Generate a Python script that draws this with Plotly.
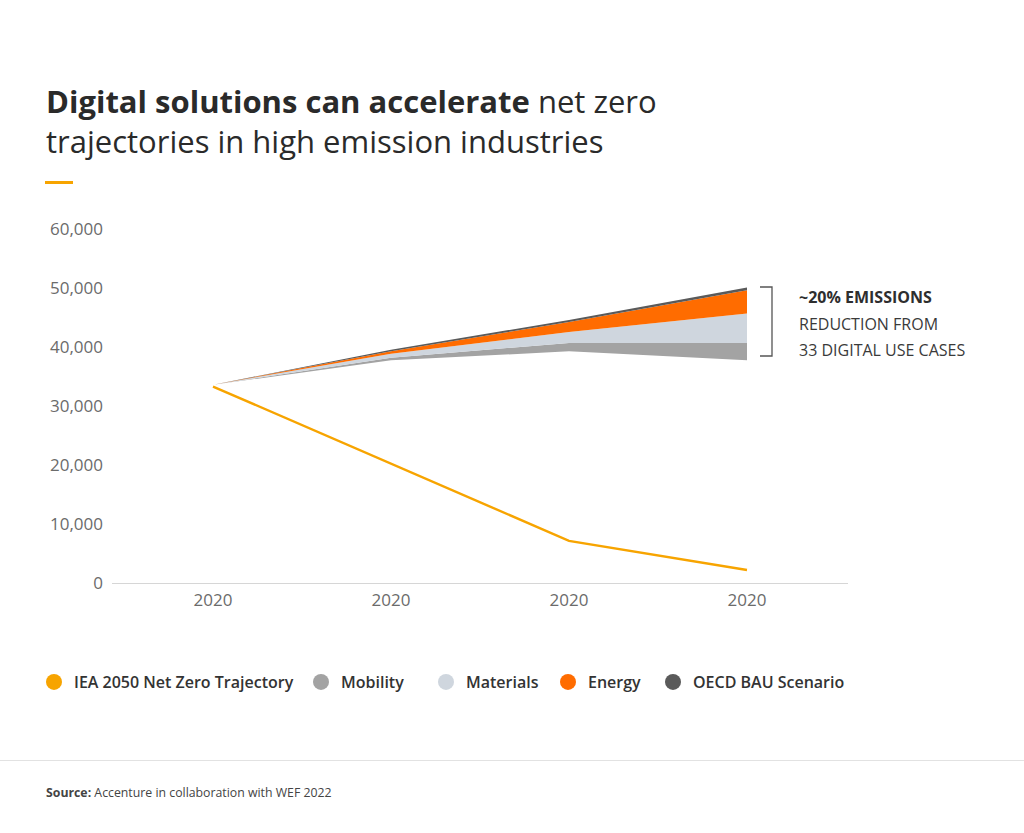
import plotly.graph_objects as go

# ---------------- data ----------------
x_positions = [0, 1, 2, 3]
tick_labels = ["2020", "2020", "2020", "2020"]
y_ticks = [0, 10000, 20000, 30000, 40000, 50000, 60000]

iea_net_zero = [33300, 20250, 7150, 2200]
achieved_base = [33600, 37740, 39270, 37740]   # bottom of the stack (invisible)
mobility = [0, 450, 1410, 2940]
materials = [0, 680, 1870, 4990]
energy = [0, 400, 1700, 3960]
oecd_bau = [0, 280, 320, 450]

series_names = ["IEA 2050 Net Zero Trajectory", "Mobility", "Materials", "Energy", "OECD BAU Scenario"]
series_colors = ["#F7A400", "#A3A3A3", "#CFD6DE", "#FF6C00", "#5A5A5A"]

# ---------------- layout helpers ----------------
W, H = 1024, 833
L, R, T, B = 112, 848, 229, 583
legend_symbol_x = [54, 321, 446, 568, 673]


def px(xp):
    return (xp - L) / (R - L)


def py(yp):
    return (B - yp) / (B - T)


FONT = "Open Sans"

fig = go.Figure()

# stacked areas
fig.add_trace(go.Scatter(x=x_positions, y=achieved_base, stackgroup="s", mode="lines",
                         line=dict(width=0), fillcolor="rgba(0,0,0,0)", showlegend=False,
                         hoverinfo="skip"))
for vals, col in zip([mobility, materials, energy, oecd_bau], series_colors[1:]):
    fig.add_trace(go.Scatter(x=x_positions, y=vals, stackgroup="s", mode="lines",
                             line=dict(width=0, color=col), fillcolor=col, showlegend=False,
                             hoverinfo="skip"))

# IEA line
fig.add_trace(go.Scatter(x=x_positions, y=iea_net_zero, mode="lines",
                         line=dict(color=series_colors[0], width=2.4), showlegend=False))

# legend entries (circles), one legend box per entry
legend_layouts = {}
for i, (name, col) in enumerate(zip(series_names, series_colors)):
    lid = "legend" if i == 0 else f"legend{i + 1}"
    fig.add_trace(go.Scatter(x=[None], y=[None], mode="markers", name=name, legend=lid,
                             marker=dict(size=16, color=col, symbol="circle")))
    legend_layouts[lid] = dict(orientation="h", x=px(legend_symbol_x[i] - 20), y=py(682),
                               xanchor="left", yanchor="middle",
                               font=dict(family=FONT, size=16, color="#333333", weight=600),
                               itemsizing="trace", bgcolor="rgba(0,0,0,0)")

shapes = [
    # accent line under title
    dict(type="line", xref="paper", yref="paper", x0=px(45), x1=px(73), y0=py(182.5), y1=py(182.5),
         line=dict(color="#F7A400", width=3)),
    # separator
    dict(type="line", xref="paper", yref="paper", x0=px(0), x1=px(1024), y0=py(760.5), y1=py(760.5),
         line=dict(color="#E2E2E2", width=1)),
    # bracket
    dict(type="path", xref="paper", yref="paper",
         path=f"M {px(760)} {py(287)} L {px(772)} {py(287)} L {px(772)} {py(356)} L {px(760)} {py(356)}",
         line=dict(color="#555555", width=1.3)),
]

annotations = [
    dict(text="<b>Digital solutions can accelerate</b> net zero<br>trajectories in high emission industries",
         x=px(44), y=py(120.5), xref="paper", yref="paper", xanchor="left", yanchor="middle", align="left",
         showarrow=False, font=dict(family=FONT, size=31, color="#2A2A2A")),
    dict(text="<b>~20% EMISSIONS</b>", x=px(797), y=py(297), xref="paper", yref="paper",
         xanchor="left", yanchor="middle", showarrow=False, font=dict(family=FONT, size=16, color="#2E2E2E")),
    dict(text="REDUCTION FROM", x=px(797), y=py(324), xref="paper", yref="paper",
         xanchor="left", yanchor="middle", showarrow=False, font=dict(family=FONT, size=16, color="#3A3A3A")),
    dict(text="33 DIGITAL USE CASES", x=px(797), y=py(350), xref="paper", yref="paper",
         xanchor="left", yanchor="middle", showarrow=False, font=dict(family=FONT, size=16, color="#3A3A3A")),
    dict(text="<b>Source:</b> Accenture in collaboration with WEF 2022", x=px(44), y=py(792), xref="paper",
         yref="paper", xanchor="left", yanchor="middle", showarrow=False,
         font=dict(family=FONT, size=12.3, color="#444444")),
]

fig.update_layout(
    width=W, height=H,
    margin=dict(l=L, r=W - R, t=T, b=H - B, pad=0),
    paper_bgcolor="white", plot_bgcolor="white",
    font=dict(family=FONT),
    shapes=shapes, annotations=annotations,
    showlegend=True,
    **legend_layouts,
    xaxis=dict(range=[-(213 - L) / 178, 3 + (R - 747) / 178], tickvals=x_positions, ticktext=tick_labels,
               showgrid=False, zeroline=False, showline=True, linecolor="#D6D6D6", linewidth=1,
               ticks="", tickfont=dict(family=FONT, size=17, color="#6B6B6B"), ticklabelstandoff=2,
               fixedrange=True),
    yaxis=dict(range=[0, 60000], tickvals=y_ticks, tickformat=",d", showgrid=False, zeroline=False,
               showline=False, ticks="", tickfont=dict(family=FONT, size=17, color="#6B6B6B"),
               ticklabelstandoff=8, fixedrange=True),
)

fig.write_html("out.html", config={"displayModeBar": False},
               post_script="document.body.style.margin='0';document.body.style.overflow='hidden';")
